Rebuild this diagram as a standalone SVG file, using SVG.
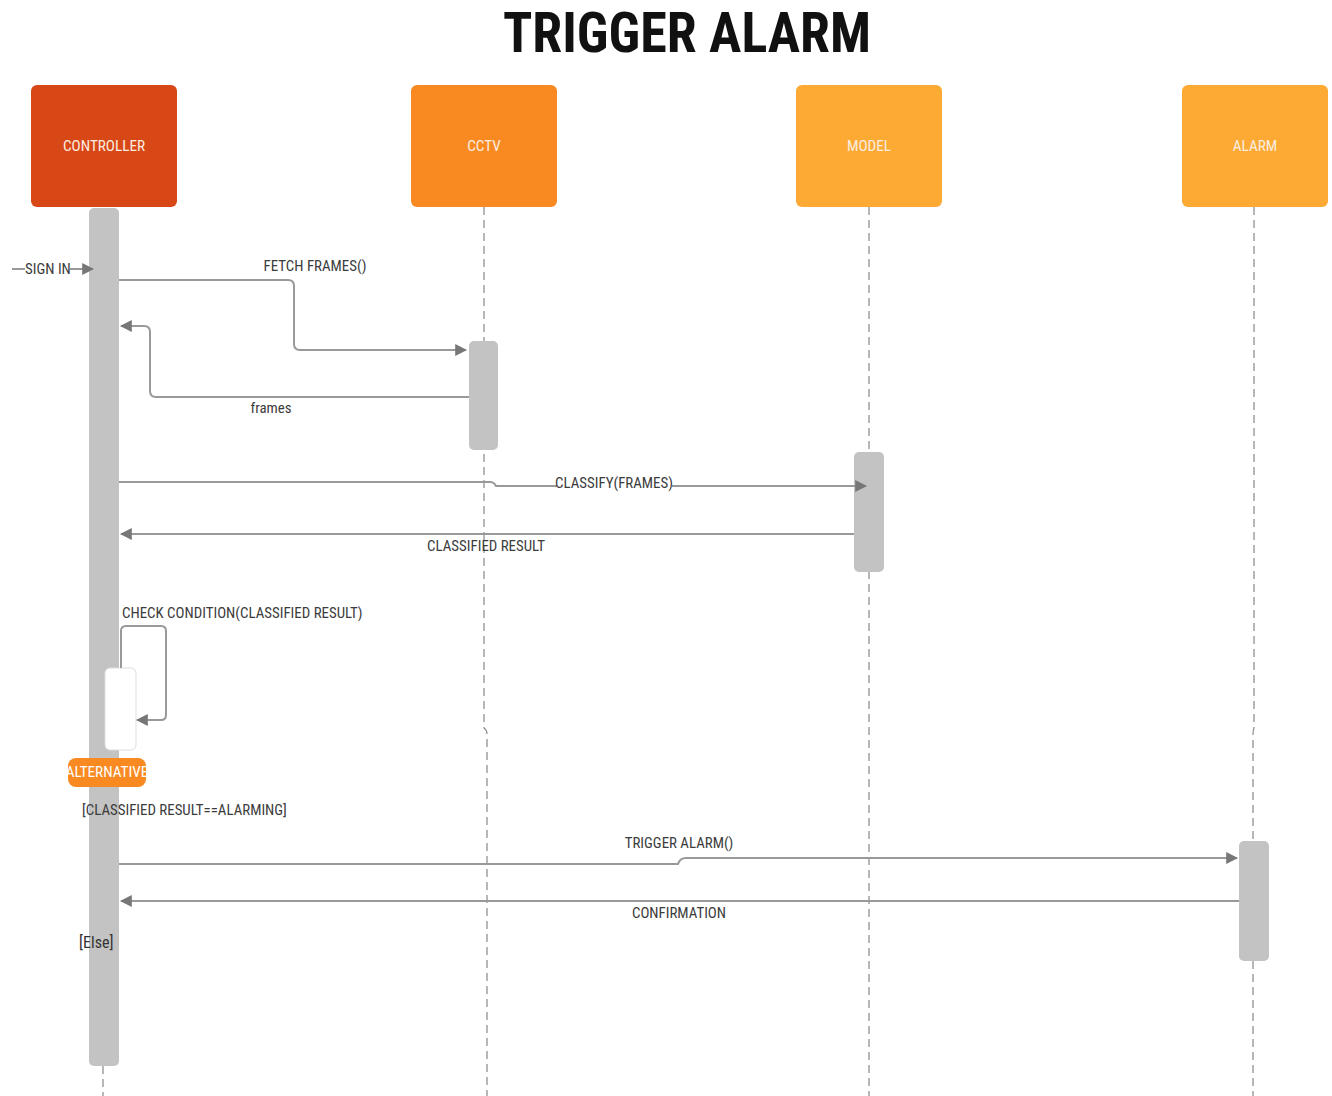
<svg xmlns="http://www.w3.org/2000/svg" width="1332" height="1096" viewBox="0 0 1332 1096">
<defs>
<marker id="arr" viewBox="0 0 10 10" refX="9" refY="5" markerWidth="12" markerHeight="12" markerUnits="userSpaceOnUse" orient="auto">
<path d="M0,0 L10,5 L0,10 z" fill="#777"/>
</marker>
<style>
text{font-family:"Liberation Sans Narrow","Roboto Condensed","Liberation Sans",Arial,sans-serif;}
.title{font-size:55px;font-weight:bold;fill:#111;}
.node{stroke:none;}
.nlabel{font-size:15.2px;fill:#fbeee0;text-anchor:middle;}
.life{stroke:#888;stroke-width:1.2;stroke-dasharray:8 5;fill:none;}
.act{fill:#c3c3c3;}
.msg{stroke:#999;stroke-width:2;fill:none;}
.lbl{font-size:14.9px;fill:#3c3c3c;}
.mid{text-anchor:middle;}
</style>
</defs>
<rect width="1332" height="1096" fill="#fff"/>
<text class="title" x="687" y="52" text-anchor="middle" textLength="368" lengthAdjust="spacingAndGlyphs">TRIGGER ALARM</text>

<g id="lifelines">
<line class="life" x1="103" y1="1066" x2="103" y2="1096"/>
<path class="life" d="M484,207 V728 Q487,730 487,734 V1096"/>
<line class="life" x1="869" y1="207" x2="869" y2="1096"/>
<path class="life" d="M1254,207 V728 Q1253,730 1253,734 V1096"/>
</g>

<g id="controller">
<rect class="node" x="31" y="85" width="146" height="122" rx="6" fill="#d84716"/>
<text class="nlabel" x="104" y="151">CONTROLLER</text>
</g>
<g id="cctv">
<rect class="node" x="411" y="85" width="146" height="122" rx="6" fill="#f98a22"/>
<text class="nlabel" x="484" y="151">CCTV</text>
</g>
<g id="model">
<rect class="node" x="796" y="85" width="146" height="122" rx="6" fill="#fcaa33"/>
<text class="nlabel" x="869" y="151">MODEL</text>
</g>
<g id="alarm">
<rect class="node" x="1182" y="85" width="146" height="122" rx="6" fill="#fcaa33"/>
<text class="nlabel" x="1255" y="151">ALARM</text>
</g>

<g id="activations">
<rect class="act" x="89" y="208" width="30" height="858" rx="5"/>
<rect class="act" x="469" y="341" width="29" height="109" rx="5"/>
<rect class="act" x="854" y="452" width="30" height="120" rx="5"/>
<rect class="act" x="1239" y="841" width="30" height="120" rx="5"/>
<rect id="self-box" x="105" y="668" width="31" height="82" rx="5" fill="#fff" stroke="#ddd" stroke-width="1"/>
</g>

<g id="connectors">
<line class="msg" x1="12" y1="269" x2="25" y2="269"/>
<line class="msg" x1="70" y1="269" x2="93" y2="269" marker-end="url(#arr)"/>
<path class="msg" d="M119,280 H288 Q294,280 294,286 V344 Q294,350 300,350 H466" marker-end="url(#arr)"/>
<path class="msg" d="M469,397 H156 Q150,397 150,391 V332 Q150,326 144,326 H121" marker-end="url(#arr)"/>
<path class="msg" d="M119,482 H490 Q494,482 496,486 H866" marker-end="url(#arr)"/>
<path class="msg" d="M854,534 H121" marker-end="url(#arr)"/>
<path class="msg" d="M121,668 V631 Q121,626 126,626 H161 Q166,626 166,631 V715 Q166,720 161,720 H137" marker-end="url(#arr)"/>
<path class="msg" d="M119,864 H678 Q680,858 686,858 H1237" marker-end="url(#arr)"/>
<path class="msg" d="M1239,901 H121" marker-end="url(#arr)"/>
</g>

<g id="labels">
<text class="lbl" x="25" y="274">SIGN IN</text>
<text class="lbl mid" x="315" y="271">FETCH FRAMES()</text>
<text class="lbl mid" x="271" y="413">frames</text>
<rect x="557" y="475" width="115" height="16" fill="#fff"/>
<text class="lbl mid" x="614" y="488">CLASSIFY(FRAMES)</text>
<text class="lbl mid" x="486" y="551">CLASSIFIED RESULT</text>
<text class="lbl" x="122" y="618">CHECK CONDITION(CLASSIFIED RESULT)</text>
<text class="lbl mid" x="679" y="848">TRIGGER ALARM()</text>
<text class="lbl mid" x="679" y="918">CONFIRMATION</text>
</g>

<g id="alternative">
<rect x="68" y="758" width="78" height="29" rx="8" fill="#f98a22"/>
<text x="107" y="777" text-anchor="middle" font-size="15.2" fill="#fff">ALTERNATIVE</text>
<text class="lbl" x="82" y="815">[CLASSIFIED RESULT==ALARMING]</text>
<text x="79" y="948" font-size="16" fill="#333">[Else]</text>
</g>
</svg>
